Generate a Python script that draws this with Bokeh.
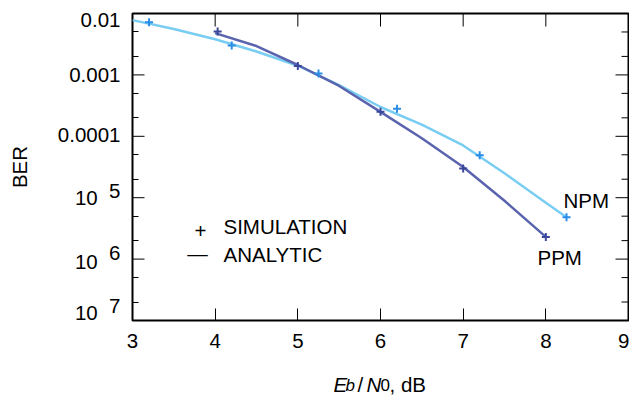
import math
from bokeh.plotting import figure
from bokeh.layouts import column
from bokeh.models import Range1d, FixedTicker, Label
from bokeh.embed import file_html
from bokeh.resources import INLINE

# ---------------- data ----------------
x_ticks = [3, 4, 5, 6, 7, 8, 9]
y_ticks = [1e-2, 1e-3, 1e-4, 1e-5, 1e-6, 1e-7]
y_minor = [5e-3, 2e-3, 5e-4, 2e-4, 5e-5, 2e-5, 5e-6, 2e-6, 5e-7, 2e-7]
y_tick_text = ["0.01", "0.001", "0.0001", "10", "10", "10"]
y_power_exps = ["5", "6", "7"]

npm_line_x = [3.0, 3.5, 4.0, 4.5, 5.0, 5.5, 6.0, 6.5, 7.0, 7.5, 8.0, 8.25]
npm_line_y = [7.8e-3, 5.6e-3, 3.8e-3, 2.4e-3, 1.41e-3, 6.8e-4, 3.0e-4, 1.55e-4, 7.1e-5, 2.5e-5, 8.3e-6, 4.8e-6]
npm_sim_x = [3.2, 4.2, 5.25, 6.2, 7.2, 8.25]
npm_sim_y = [7.2e-3, 3.0e-3, 1.05e-3, 2.8e-4, 4.9e-5, 4.8e-6]

ppm_line_x = [4.0, 4.5, 5.0, 5.5, 6.0, 6.5, 7.0, 7.5, 8.0]
ppm_line_y = [4.8e-3, 2.95e-3, 1.45e-3, 6.6e-4, 2.5e-4, 9.3e-5, 3.16e-5, 8.9e-6, 2.3e-6]
ppm_sim_x = [4.03, 5.0, 6.0, 7.0, 8.0]
ppm_sim_y = [5.1e-3, 1.4e-3, 2.5e-4, 3.0e-5, 2.3e-6]

# ---------------- style ----------------
FONT = "Liberation Sans"
FS = "20.5px"
NPM_LINE = "#79cdf2"
NPM_MARK = "#2a8de6"
PPM_LINE = "#5a63ae"
PPM_MARK = "#3b479b"

X0, X1 = 3, 9
Y0, Y1 = 1e-7, 1e-2
LEFT, TOP, RIGHT_B = 132, 13, 1
MAIN_H, TITLE_H, W = 365, 32, 629
FRAME_W = W - LEFT - RIGHT_B
FRAME_H = 320 - TOP
PX_PER_X = FRAME_W / (X1 - X0)
PX_PER_DEC = FRAME_H / math.log10(Y1 / Y0)


def shift(v, px):
    """value located px pixels above v on the log axis"""
    return v * 10 ** (px / PX_PER_DEC)


p = figure(width=W, height=MAIN_H, x_range=Range1d(X0, X1), y_range=Range1d(Y0, Y1),
           y_axis_type="log", output_backend="svg", toolbar_location=None, title=None,
           min_border_left=LEFT, min_border_right=RIGHT_B, min_border_top=TOP,
           min_border_bottom=MAIN_H - 320)
p.background_fill_color = "white"
p.border_fill_color = "white"
p.outline_line_color = "black"
p.outline_line_width = 2
p.xgrid.visible = False
p.ygrid.visible = False

# bottom axis
xa = p.xaxis[0]
xa.ticker = FixedTicker(ticks=x_ticks, minor_ticks=[])
xa.axis_line_color = None
xa.major_tick_in = 12
xa.major_tick_out = 0
xa.minor_tick_line_color = None
xa.major_label_standoff = 13
xa.major_label_text_font = FONT
xa.major_label_text_font_size = FS
xa.major_label_text_color = "black"

# left axis: labels placed at (slightly shifted) label positions, minor ticks drawn by axis
NB = "\u00a0"
label_px = [-6, 0, 2, 0, -2, 8]          # vertical nudge of each base label (px)
exp_px = [7, 7, 15]                       # vertical nudge of each exponent (px)
lab_vals, overrides = [], {}
for i, (v, t) in enumerate(zip(y_ticks, y_tick_text)):
    lv = shift(v, label_px[i])
    lab_vals.append(lv)
    overrides[lv] = t if i < 3 else t + NB * 4
for v, e, o in zip(y_ticks[3:], y_power_exps, exp_px):
    ev = shift(v, o)
    lab_vals.append(ev)
    overrides[ev] = e

ya = p.yaxis[0]
ya.ticker = FixedTicker(ticks=lab_vals, minor_ticks=y_minor)
ya.axis_line_color = None
ya.major_tick_line_color = None
ya.major_tick_in = 0
ya.major_tick_out = 0
ya.minor_tick_in = 6
ya.minor_tick_out = 0
ya.major_label_standoff = 12
ya.major_label_text_font = FONT
ya.major_label_text_font_size = FS
ya.major_label_text_color = "black"
ya.major_label_overrides = overrides
ya.axis_label = "BER"
ya.axis_label_text_font = FONT
ya.axis_label_text_font_size = FS
ya.axis_label_text_font_style = "normal"
ya.axis_label_text_color = "black"
ya.axis_label_standoff = 24

# inward major ticks on left, top and right edges
n = len(y_ticks)
lmaj = 12 / PX_PER_X
p.segment(x0=[X0] * n, y0=y_ticks, x1=[X0 + lmaj] * n, y1=y_ticks, line_color="black", line_width=1)
top_len = 10 ** (-13 / PX_PER_DEC)
inner = x_ticks[1:-1]
p.segment(x0=inner, y0=[Y1] * len(inner), x1=inner, y1=[Y1 * top_len] * len(inner),
          line_color="black", line_width=1)
rmaj = 13 / PX_PER_X
rmin = 7 / PX_PER_X
p.segment(x0=[X1] * n, y0=y_ticks, x1=[X1 - rmaj] * n, y1=y_ticks, line_color="black", line_width=1)
p.segment(x0=[X1] * len(y_minor), y0=y_minor, x1=[X1 - rmin] * len(y_minor), y1=y_minor,
          line_color="black", line_width=1)

# ---------------- data marks ----------------
p.line(npm_line_x, npm_line_y, line_color=NPM_LINE, line_width=2.5)
p.line(ppm_line_x, ppm_line_y, line_color=PPM_LINE, line_width=2.5)
p.scatter(npm_sim_x, npm_sim_y, marker="cross", size=8, line_color=NPM_MARK, line_width=2)
p.scatter(ppm_sim_x, ppm_sim_y, marker="cross", size=8, line_color=PPM_MARK, line_width=2)


# ---------------- in-plot text ----------------
def dx(px):
    return X0 + (px - LEFT) / PX_PER_X


def dy(py):
    return 10 ** (math.log10(Y1) - (py - TOP) / PX_PER_DEC)


def lab(fig, text, x, y, **kw):
    opts = dict(text_font=FONT, text_font_size=FS, text_color="black")
    opts.update(kw)
    fig.add_layout(Label(x=x, y=y, text=text, **opts))


lab(p, "+", dx(200), dy(230), text_align="center", text_baseline="middle")
lab(p, "\u2014", dx(197), dy(253), text_align="center", text_baseline="middle")
lab(p, "SIMULATION", dx(223), dy(226), text_baseline="middle")
lab(p, "ANALYTIC", dx(223), dy(254), text_baseline="middle")
lab(p, "NPM", dx(563), dy(200), text_baseline="middle")
lab(p, "PPM", dx(537), dy(257), text_baseline="middle")

# ---------------- x-axis title strip:  E_b / N_0, dB ----------------
t = figure(width=W, height=TITLE_H, x_range=p.x_range, y_range=Range1d(0, TITLE_H),
           output_backend="svg", toolbar_location=None, title=None,
           x_axis_location=None, y_axis_location=None,
           min_border_left=LEFT, min_border_right=RIGHT_B, min_border_top=0, min_border_bottom=0)
t.outline_line_color = None
t.background_fill_color = "white"
t.border_fill_color = "white"
t.xgrid.visible = False
t.ygrid.visible = False

base = 13.5   # baseline of the title
sub = 12.2    # baseline of subscripts
lab(t, "E", dx(333), base, text_font_style="italic", text_baseline="alphabetic")
lab(t, "b", dx(345), sub, text_font_style="italic", text_font_size="17px", text_baseline="alphabetic")
lab(t, "/", dx(357), base, text_baseline="alphabetic")
lab(t, "N", dx(366), base, text_font_style="italic", text_baseline="alphabetic")
lab(t, "0", dx(380), sub, text_font_size="17px", text_baseline="alphabetic")
lab(t, ", dB", dx(389), base, text_baseline="alphabetic")

layout = column(p, t, spacing=0)
open("out.html", "w").write(file_html(layout, INLINE))
